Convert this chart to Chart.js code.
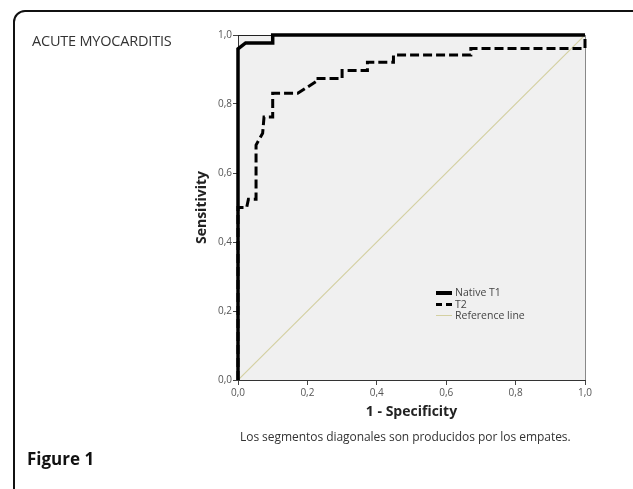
<!DOCTYPE html>
<html>
<head>
<meta charset="utf-8">
<script src="https://cdn.jsdelivr.net/npm/chart.js@4.4.0/dist/chart.umd.min.js"></script>
<style>
  html, body { margin: 0; padding: 0; background: #fff; }
  body { width: 633px; height: 489px; position: relative; overflow: hidden; font-family: "Open Sans", sans-serif; }
  #frame { position: absolute; left: 13px; top: 10px; width: 640px; height: 520px; border: 2px solid #111; border-radius: 12px; box-sizing: border-box; }
  #wrap { position: absolute; left: 0; top: 0; width: 633px; height: 489px; }
  #heading { position: absolute; left: 32px; top: 31px; font-size: 14.5px; color: #333; letter-spacing: -0.2px; }
  #legend { position: absolute; left: 436px; top: 287px; font-size: 10.5px; color: #444; line-height: 11.5px; }
  #legend .item { display: flex; align-items: center; height: 11.5px; }
  #legend .swatch { width: 16px; margin-right: 3px; }
  #note { position: absolute; left: 240px; top: 428px; font-size: 12px; color: #333; letter-spacing: -0.05px; }
  #fig { position: absolute; left: 27px; top: 447px; font-size: 17px; font-weight: bold; color: #111; }
</style>
</head>
<body>
<div id="frame"></div>
<div id="wrap"><canvas id="rocChart" width="633" height="489"></canvas></div>
<div id="heading">ACUTE MYOCARDITIS</div>
<div id="legend"></div>
<div id="note">Los segmentos diagonales son producidos por los empates.</div>
<div id="fig">Figure 1</div>
<script>
// ROC curve values (1 - specificity, sensitivity)
const t1Fpr  = [0, 0,    0.022, 0.1,   0.1, 1];
const t1Sens = [0, 0.96, 0.977, 0.977, 1,   1];

const t2Fpr  = [0, 0,   0.025, 0.03,  0.052, 0.052, 0.071, 0.075, 0.1,  0.1,  0.172, 0.225, 0.225, 0.30,  0.30,  0.373, 0.373, 0.448, 0.448, 0.671, 0.671, 1,    1];
const t2Sens = [0, 0.5, 0.5,   0.524, 0.524, 0.681, 0.715, 0.762, 0.762, 0.831, 0.831, 0.865, 0.874, 0.874, 0.897, 0.897, 0.921, 0.921, 0.942, 0.942, 0.961, 0.961, 1];

const refX = [0, 1];
const refY = [0, 1];

const axisTicks = [0, 0.2, 0.4, 0.6, 0.8, 1.0];

function toPoints(xs, ys) {
    return xs.map(function (x, i) { return { x: x, y: ys[i] }; });
}

function comma(v) {
    return Number(v).toFixed(1).replace('.', ',');
}

const plotBox = {
    id: 'plotBox',
    beforeDraw: function (chart) {
        const a = chart.chartArea, ctx = chart.ctx;
        ctx.save();
        ctx.fillStyle = '#f0f0f0';
        ctx.fillRect(a.left, a.top, a.right - a.left, a.bottom - a.top);
        ctx.restore();
    },
    beforeDatasetsDraw: function (chart) {
        const a = chart.chartArea, ctx = chart.ctx;
        ctx.save();
        ctx.lineWidth = 1;
        ctx.strokeStyle = '#222';
        ctx.beginPath();
        ctx.moveTo(a.left, a.top + 0.5);
        ctx.lineTo(a.right, a.top + 0.5);
        ctx.stroke();
        ctx.strokeStyle = '#888';
        ctx.beginPath();
        ctx.moveTo(a.right + 0.5, a.top);
        ctx.lineTo(a.right + 0.5, a.bottom);
        ctx.stroke();
        ctx.restore();
    }
};

document.addEventListener('DOMContentLoaded', function () {
    let rocCtx = document.getElementById('rocChart').getContext('2d');
    let rocChart = new Chart(rocCtx, {
        type: 'scatter',
        data: {
            datasets: [{
                label: 'Native T1',
                data: toPoints(t1Fpr, t1Sens),
                showLine: true,
                borderColor: '#000',
                borderWidth: 3.5,
                pointRadius: 0,
                clip: 4,
                order: 1
            }, {
                label: 'T2',
                data: toPoints(t2Fpr, t2Sens),
                showLine: true,
                borderColor: '#000',
                borderWidth: 3,
                borderDash: [9, 4],
                pointRadius: 0,
                clip: 4,
                order: 2
            }, {
                label: 'Reference line',
                data: toPoints(refX, refY),
                showLine: true,
                borderColor: '#d4d0a2',
                borderWidth: 1.2,
                pointRadius: 0,
                order: 3
            }]
        },
        options: {
            responsive: false,
            animation: false,
            layout: { padding: { left: 194, right: 48, top: 35, bottom: 69 } },
            plugins: { legend: { display: false }, tooltip: { enabled: false } },
            scales: {
                x: {
                    type: 'linear', min: 0, max: 1,
                    afterBuildTicks: function (scale) { scale.ticks = axisTicks.map(function (v) { return { value: v }; }); },
                    afterFit: function (scale) { scale.height = 40; },
                    ticks: { callback: comma, color: '#555', font: { size: 10, family: 'Open Sans' }, padding: 2, maxRotation: 0 },
                    grid: { drawOnChartArea: false, drawTicks: true, tickLength: 5, color: '#444' },
                    border: { display: true, color: '#333', width: 1 },
                    title: { display: true, text: '1 - Specificity', color: '#222', padding: 0, font: { size: 14, weight: 'bold', family: 'Open Sans' } }
                },
                y: {
                    type: 'linear', min: 0, max: 1,
                    afterBuildTicks: function (scale) { scale.ticks = axisTicks.map(function (v) { return { value: v }; }); },
                    afterFit: function (scale) { scale.width = 44; },
                    ticks: { callback: comma, color: '#555', font: { size: 10, family: 'Open Sans' }, padding: 1 },
                    grid: { drawOnChartArea: false, drawTicks: true, tickLength: 5, color: '#444' },
                    border: { display: true, color: '#333', width: 1 },
                    title: { display: true, text: 'Sensitivity', color: '#222', padding: 0, font: { size: 14, weight: 'bold', family: 'Open Sans' } }
                }
            }
        },
        plugins: [plotBox]
    });

    // legend built from the datasets
    let legend = document.getElementById('legend');
    rocChart.data.datasets.forEach(function (ds) {
        let item = document.createElement('div');
        item.className = 'item';
        let sw = document.createElement('span');
        sw.className = 'swatch';
        let style = ds.borderDash ? 'dashed' : 'solid';
        let w = ds.label === 'Native T1' ? 4 : (ds.borderDash ? 3 : 1);
        sw.style.borderTop = w + 'px ' + style + ' ' + ds.borderColor;
        item.appendChild(sw);
        item.appendChild(document.createTextNode(ds.label));
        legend.appendChild(item);
    });
});
</script>
</body>
</html>
